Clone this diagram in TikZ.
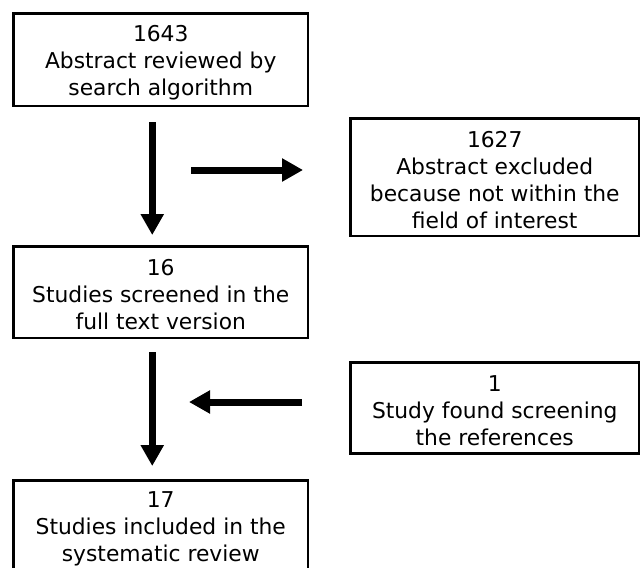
\documentclass[tikz,border=0pt]{standalone}
\usepackage{fontspec}
\setmainfont{DejaVu Sans}
\usetikzlibrary{arrows.meta}
\begin{document}
\begin{tikzpicture}[x=1pt,y=-1pt,
  box/.style={draw=black,line width=2.9pt,fill=white,inner sep=0pt},
  txt/.style={align=center,inner sep=0pt,font=\fontsize{21.8pt}{26.8pt}\selectfont},
  arr/.style={line width=7pt,-{Triangle[length=21pt,width=22pt]}}]
\useasboundingbox (0,0) rectangle (641,568);
\node[box,minimum width=294.5pt,minimum height=92.5pt] (b1) at (160.75,59.75) {};
\node[txt] (t1) at (160.75,62.5) {1643\\Abstract reviewed by\\search algorithm};
\node[box,minimum width=288.5pt,minimum height=117.5pt] (b2) at (494.75,177.25) {};
\node[txt] (t2) at (494.75,180) {1627\\Abstract excluded\\because not within the\\field of interest};
\node[box,minimum width=294.5pt,minimum height=91.5pt] (b3) at (160.75,292.25) {};
\node[txt] (t3) at (160.75,294.5) {16\\Studies screened in the\\full text version};
\node[box,minimum width=288.5pt,minimum height=91pt] (b4) at (494.75,408) {};
\node[txt] (t4) at (494.75,410.5) {1\\Study found screening\\the references};
\node[box,minimum width=294.5pt,minimum height=92pt] (b5) at (160.75,526.5) {};
\node[txt] (t5) at (160.75,529) {17\\Studies included in the\\systematic review};
\coordinate (h1s) at (191,170);
\coordinate (h2e) at (189,402);
\draw[arr,shorten <=15pt,shorten >=10pt] ([xshift=-8.5pt]b1.south) -- ([xshift=-8.5pt]b3.north);
\draw[arr] (h1s) -- ([xshift=-46pt]b2.west |- h1s);
\draw[arr,shorten <=13pt,shorten >=13pt] ([xshift=-8.5pt]b3.south) -- ([xshift=-8.5pt]b5.north);
\draw[arr] ([xshift=-47pt]b4.west |- h2e) -- (h2e);
\end{tikzpicture}
\end{document}
